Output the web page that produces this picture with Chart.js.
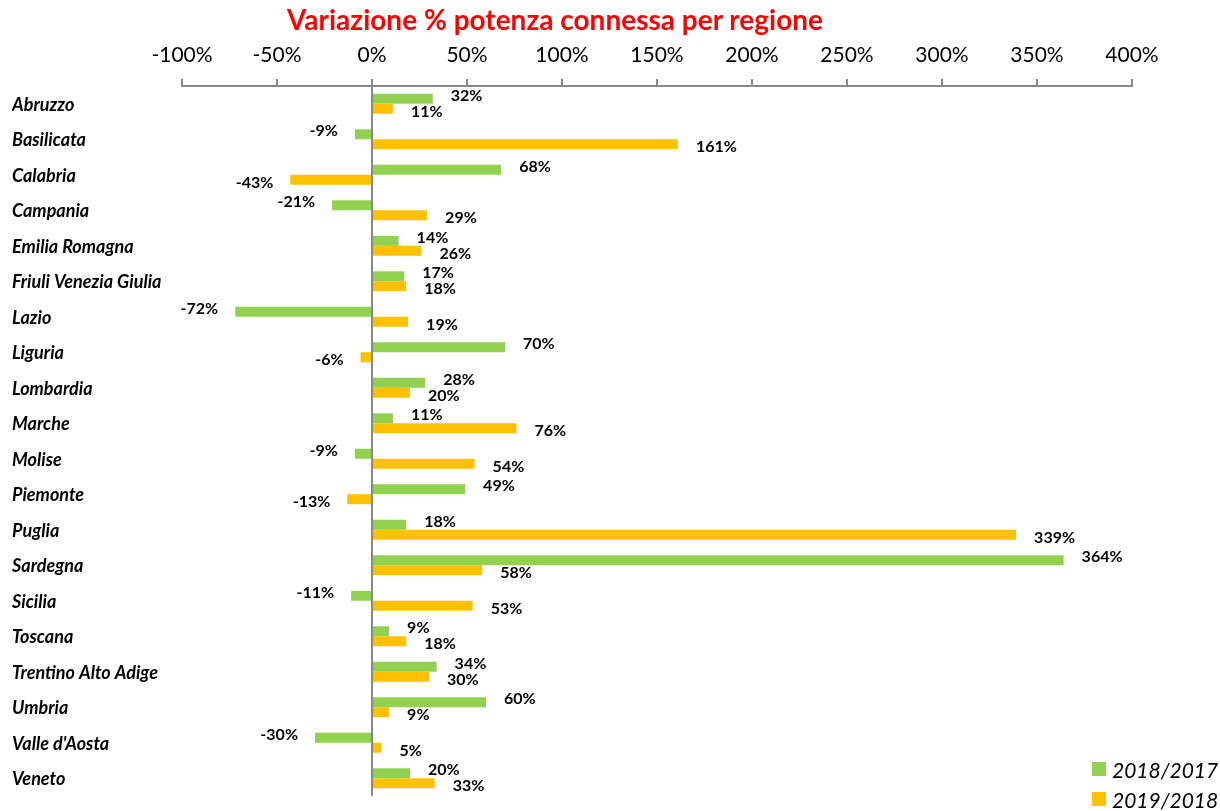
<!DOCTYPE html>
<html lang="it">
<head>
<meta charset="UTF-8">
<title>Variazione % potenza connessa per regione</title>
<script src="https://cdn.jsdelivr.net/npm/chart.js"></script>
<style>
    body { margin: 0; background: #fff; font-family: Lato, sans-serif; }
    #wrap { position: relative; width: 1220px; height: 811px; overflow: hidden; }
    #title {
        position: absolute; left: 287px; top: 2px;
        color: #ff0000; font-weight: bold; font-size: 28px; white-space: nowrap;
    }
    #legend { position: absolute; left: 1092px; top: 754px; font-style: italic; font-size: 21px; }
    .item { display: flex; align-items: center; height: 30px; }
    .box { width: 14px; height: 14px; margin-right: 6px; }
</style>
</head>
<body>
<div id="wrap">
    <canvas id="chart" width="1220" height="811"></canvas>
    <div id="title">Variazione % potenza connessa per regione</div>
    <div id="legend"></div>
</div>
<script>
const regions = ['Abruzzo', 'Basilicata', 'Calabria', 'Campania', 'Emilia Romagna',
    'Friuli Venezia Giulia', 'Lazio', 'Liguria', 'Lombardia', 'Marche', 'Molise',
    'Piemonte', 'Puglia', 'Sardegna', 'Sicilia', 'Toscana', 'Trentino Alto Adige',
    'Umbria', "Valle d'Aosta", 'Veneto'];
const var2018 = [32, -9, 68, -21, 14, 17, -72, 70, 28, 11, -9, 49, 18, 364, -11, 9, 34, 60, -30, 20];
const var2019 = [11, 161, -43, 29, 26, 18, 19, -6, 20, 76, 54, -13, 339, 58, 53, 18, 30, 9, 5, 33];
const seriesNames = ['2018/2017', '2019/2018'];
const seriesColors = ['#92d050', '#ffc000'];

// etichette dei valori accanto alle barre
const valueLabels = {
    id: 'valueLabels',
    afterDatasetsDraw(chart) {
        const ctx = chart.ctx;
        ctx.save();
        ctx.font = 'bold 16px Lato';
        ctx.fillStyle = '#000';
        ctx.textBaseline = 'middle';
        chart.data.datasets.forEach((ds, i) => {
            const dy = i === 0 ? -3 : 3;
            chart.getDatasetMeta(i).data.forEach((bar, j) => {
                const v = ds.data[j];
                if (v >= 0) {
                    ctx.textAlign = 'left';
                    ctx.fillText(v + '%', bar.x + 18, bar.y + dy);
                } else {
                    ctx.textAlign = 'right';
                    ctx.fillText(v + '%', bar.x - 17, bar.y + dy);
                }
            });
        });
        ctx.restore();
    }
};

const chart = new Chart(document.getElementById('chart'), {
    type: 'bar',
    data: {
        labels: regions,
        datasets: [
            { label: seriesNames[0], data: var2018, backgroundColor: seriesColors[0] },
            { label: seriesNames[1], data: var2019, backgroundColor: seriesColors[1] }
        ]
    },
    options: {
        indexAxis: 'y',
        responsive: false,
        animation: false,
        layout: { padding: { left: 12, right: 88, top: 40, bottom: 15 } },
        datasets: { bar: { categoryPercentage: 0.56, barPercentage: 1 } },
        plugins: { legend: { display: false }, tooltip: { enabled: false } },
        scales: {
            x: {
                position: 'top',
                min: -100,
                max: 400,
                ticks: {
                    stepSize: 50,
                    callback: v => v + '%',
                    font: { family: 'Lato', size: 21 },
                    color: '#000',
                    padding: 11
                },
                grid: {
                    color: c => (c.tick && c.tick.value === 0) ? '#888' : 'transparent',
                    lineWidth: 2,
                    tickColor: '#888',
                    tickLength: 7,
                    tickWidth: 2
                },
                border: { color: '#888', width: 2 },
                afterFit: s => { s.height = 46; }
            },
            y: {
                ticks: {
                    font: { family: 'Lato', size: 18, weight: 'bold', style: 'italic' },
                    color: '#000',
                    crossAlign: 'far',
                    labelOffset: 1
                },
                grid: { display: false },
                border: { display: false },
                afterFit: s => { s.width = 170; }
            }
        }
    },
    plugins: [valueLabels]
});

const legend = document.getElementById('legend');
chart.data.datasets.forEach(ds => {
    const item = document.createElement('div');
    item.className = 'item';
    item.innerHTML = '<span class="box" style="background:' + ds.backgroundColor + '"></span>' + ds.label;
    legend.appendChild(item);
});
</script>
</body>
</html>
